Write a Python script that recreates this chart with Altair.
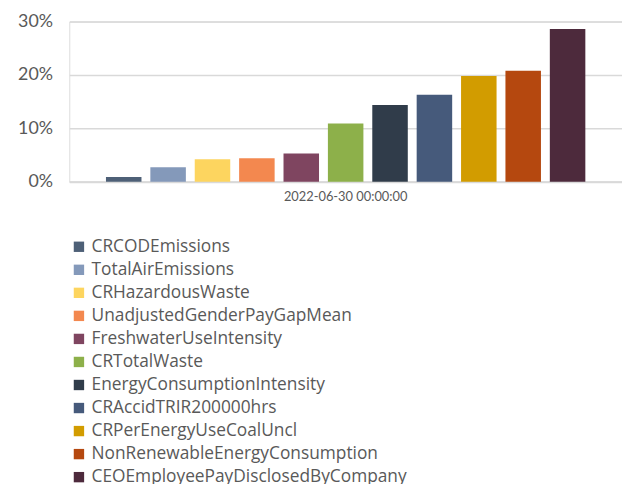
import altair as alt
import pandas as pd

series = [
    "CRCODEmissions",
    "TotalAirEmissions",
    "CRHazardousWaste",
    "UnadjustedGenderPayGapMean",
    "FreshwaterUseIntensity",
    "CRTotalWaste",
    "EnergyConsumptionIntensity",
    "CRAccidTRIR200000hrs",
    "CRPerEnergyUseCoalUncl",
    "NonRenewableEnergyConsumption",
    "CEOEmployeePayDisclosedByCompany",
]
values = [0.0087, 0.0273, 0.042, 0.044, 0.053, 0.109, 0.144, 0.163, 0.198, 0.208, 0.286]
colors = ["#4e6077", "#8499ba", "#fdd55f", "#f3884f", "#7f4560", "#8db04a",
          "#303c4a", "#465a7b", "#d29c00", "#b5480f", "#4d2a3c"]
category = ["2022-06-30 00:00:00"] * len(series)

df = pd.DataFrame({"date": category, "series": series, "value": values})

FONT = "Lato"
LFONT = "Open Sans"
GREY = "#595959"

chart = alt.Chart(df).mark_bar().encode(
    x=alt.X("date:N", title=None,
            scale=alt.Scale(paddingInner=0, paddingOuter=0.066),
            axis=alt.Axis(labelAngle=0, labelFontSize=13, labelColor=GREY, labelFont=FONT,
                          ticks=False, domainColor="#d9d9d9", domainWidth=2, labelPadding=9)),
    xOffset=alt.XOffset("series:N", sort=series,
                        scale=alt.Scale(paddingInner=0.2, paddingOuter=0.1)),
    y=alt.Y("value:Q", title=None,
            scale=alt.Scale(domain=[0, 0.3], nice=False),
            axis=alt.Axis(format=".0%", values=[0, 0.1, 0.2, 0.3], labelFontSize=18,
                          labelColor=GREY, labelFont=FONT, ticks=False, domain=False,
                          gridColor="#d9d9d9", gridWidth=1.5, labelPadding=17)),
    color=alt.Color("series:N", sort=series,
                    scale=alt.Scale(domain=series, range=colors),
                    legend=alt.Legend(title=None, orient="none", legendX=1, legendY=219,
                                      direction="vertical", symbolType="square",
                                      symbolSize=110, symbolStrokeWidth=0, symbolOpacity=1,
                                      labelFontSize=17.5, labelColor=GREY, labelFont=LFONT,
                                      rowPadding=4.3, labelOffset=4, labelLimit=0)),
).properties(
    width=559, height=162, padding={"left": 9, "top": 2, "right": 0, "bottom": 0}
).configure_view(stroke=None).configure(background="white")

chart.save("out.html", embed_options={"renderer": "svg", "actions": False})
